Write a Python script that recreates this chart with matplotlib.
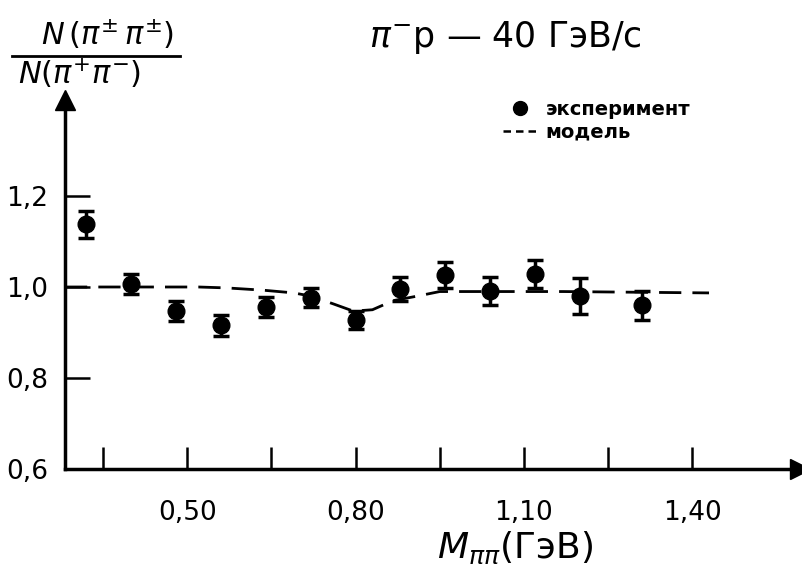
import matplotlib
matplotlib.use('Agg')
import matplotlib.pyplot as plt
from matplotlib.lines import Line2D
from matplotlib import font_manager

# ---- data ----
mass = [0.32, 0.40, 0.48, 0.56, 0.64, 0.72, 0.80, 0.88, 0.96, 1.04, 1.12, 1.20, 1.31]
ratio = [1.138, 1.007, 0.947, 0.916, 0.956, 0.976, 0.928, 0.996, 1.026, 0.991, 1.029, 0.980, 0.960]
err = [0.030, 0.022, 0.022, 0.023, 0.022, 0.021, 0.020, 0.026, 0.028, 0.030, 0.031, 0.040, 0.032]
model_x = [0.282, 0.42, 0.52, 0.57, 0.635, 0.69, 0.72, 0.76, 0.796, 0.83, 0.867, 0.91, 0.95, 1.06, 1.17, 1.43]
model_y = [1.0, 1.0, 1.0, 0.998, 0.993, 0.987, 0.98, 0.963, 0.947, 0.95, 0.97, 0.98, 0.99, 0.99, 0.99, 0.987]
xticks = [0.35, 0.50, 0.65, 0.80, 0.95, 1.10, 1.25, 1.40]
xtick_labels = ['', '0,50', '', '0,80', '', '1,10', '', '1,40']
yticks = [0.6, 0.8, 1.0, 1.2]
ytick_labels = ['0,6', '0,8', '1,0', '1,2']

plt.rcParams['font.family'] = ['DejaVu Sans']
names = {f.name for f in font_manager.fontManager.ttflist}
narrow = 'Liberation Sans Narrow' if 'Liberation Sans Narrow' in names else 'DejaVu Sans'
tick_size = 25 if narrow != 'DejaVu Sans' else 19

fig = plt.figure(figsize=(8.02, 5.76), dpi=100)
W, H = 802, 576
x0, y0, x1, y1 = 65, 469, 800, 100
ax = fig.add_axes([x0 / W, 1 - y0 / H, (x1 - x0) / W, (y0 - y1) / H])
ax.set_xlim(0.282, 0.282 + (x1 - x0) / 561.0)
ax.set_ylim(0.6, 0.6 + (y0 - y1) / 455.0)

for s in ['top', 'right']:
    ax.spines[s].set_visible(False)
for s in ['left', 'bottom']:
    ax.spines[s].set_linewidth(2.5)
    ax.spines[s].set_color('black')

# arrows
ax.plot([1.0], [0.0], marker='>', markersize=14, color='black',
        transform=ax.transAxes, clip_on=False)
ax.plot([0.0], [1.0], marker='^', markersize=14, color='black',
        transform=ax.transAxes, clip_on=False)

# model
ax.plot(model_x, model_y, color='black', lw=2, dashes=(8, 4), label='---модель')

# experiment
ax.errorbar(mass, ratio, yerr=err, fmt='o', color='black', markersize=12,
            elinewidth=2.5, capsize=6, capthick=2.5)

ax.set_xticks(xticks)
ax.set_xticklabels(xtick_labels, family=narrow)
ax.set_yticks(yticks)
ax.set_yticklabels(ytick_labels, family=narrow)
ax.tick_params(axis='x', direction='in', length=16, width=1.8, pad=22, labelsize=tick_size)
ax.tick_params(axis='y', direction='in', length=18, width=1.8, pad=12, labelsize=tick_size)

# legend
handles = [Line2D([], [], marker='o', color='black', ls='none', markersize=10),
           Line2D([], [], color='black', lw=1.8, dashes=(3, 2))]
leg = fig.legend(handles, ['эксперимент', 'модель'], loc='upper left',
                 bbox_to_anchor=(495 / W, 1 - 92 / H), frameon=False,
                 prop={'size': 14, 'weight': 'bold'}, handlelength=1.8,
                 handletextpad=0.4, labelspacing=0.2, borderaxespad=0)

# title
fig.text(505 / W, 1 - 38 / H, r'$\pi^{-}$p — 40 ГэВ/с', ha='center', va='center', fontsize=25)

# y label (fraction)
fig.text(108 / W, 1 - 34 / H, r'$N\,(\pi^{\pm}\,\pi^{\pm})$', ha='center', va='center', fontsize=22)
fig.add_artist(Line2D([12 / W, 180 / W], [1 - 56 / H, 1 - 56 / H], color='black', lw=2,
                      transform=fig.transFigure))
fig.text(80 / W, 1 - 73 / H, r'$N(\pi^{+}\pi^{-})$', ha='center', va='center', fontsize=22)

# x label
fig.text(515 / W, 1 - 548 / H, r'$M_{\pi\pi}$(ГэВ)', ha='center', va='center', fontsize=26)

fig.savefig('out.png', dpi=100)
